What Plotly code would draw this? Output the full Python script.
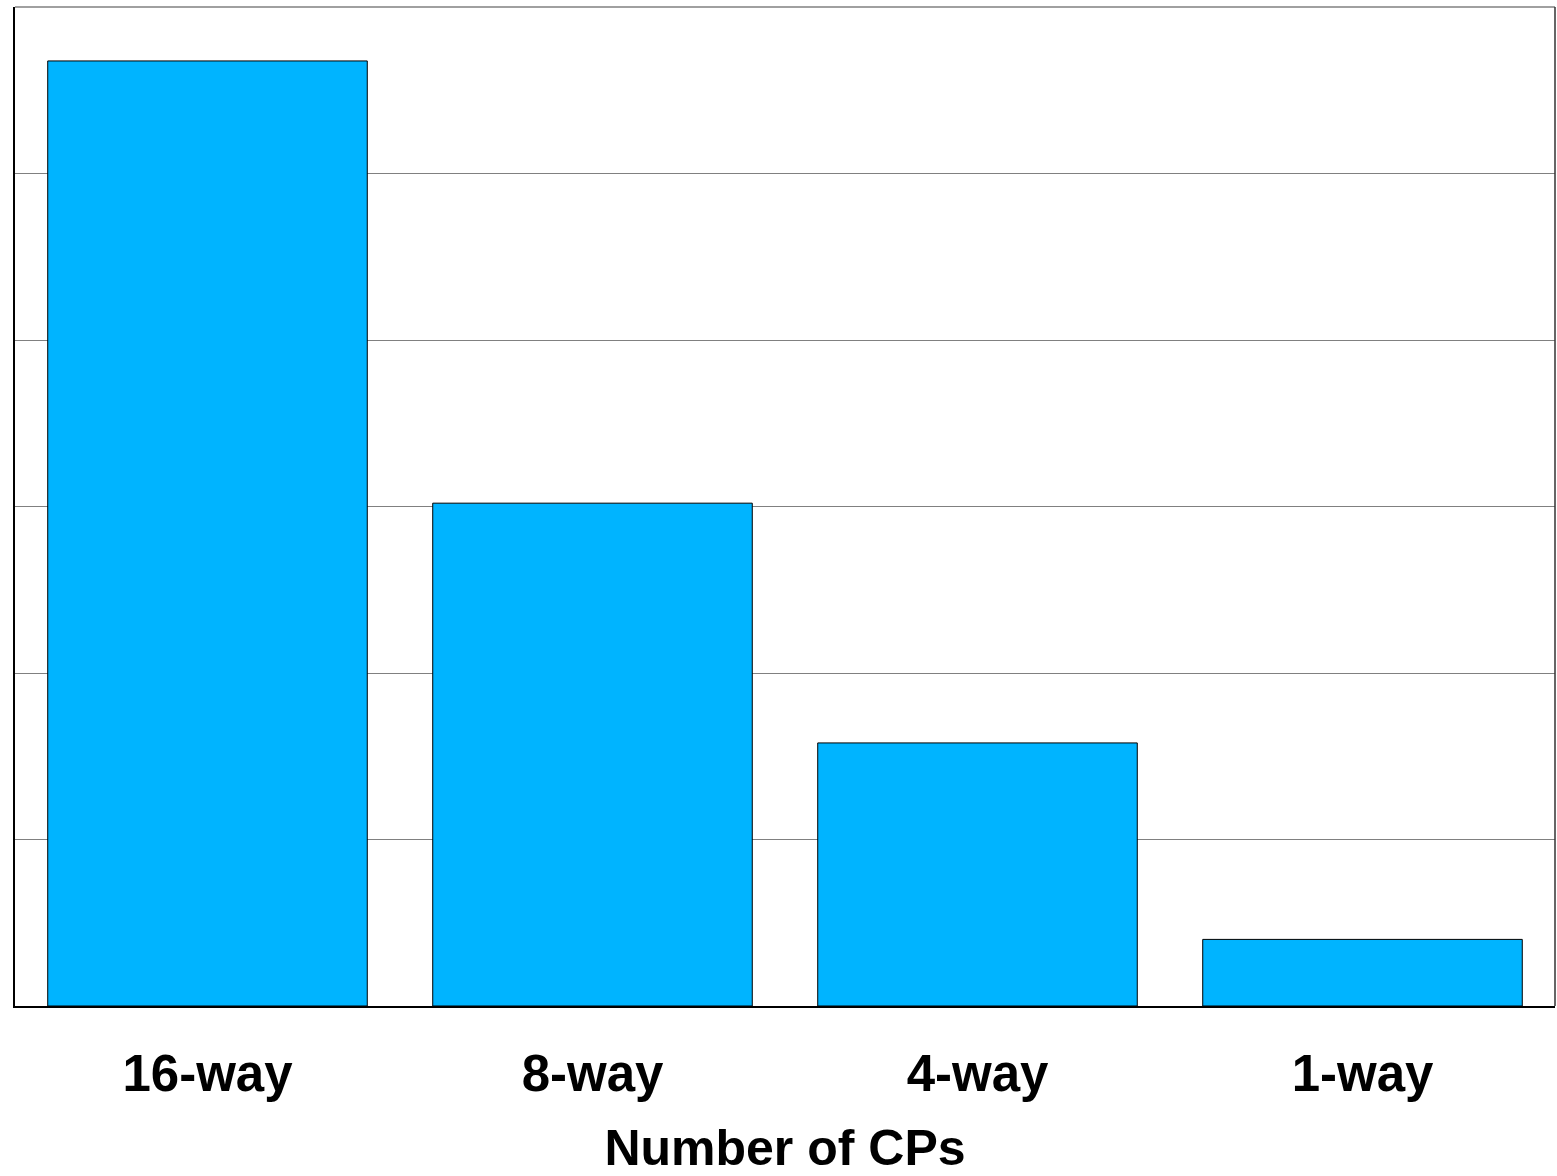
import plotly.graph_objects as go

categories = ["16-way", "8-way", "4-way", "1-way"]
values = [5.676, 3.02, 1.58, 0.40]

fig = go.Figure()
fig.add_trace(go.Bar(
    x=categories, y=values,
    marker=dict(color="#00B4FF", line=dict(color="black", width=1)),
))

font_family = "Liberation Sans, Arial, sans-serif"
fig.update_layout(
    width=1557, height=1176,
    margin=dict(l=15, r=2, t=7, b=170),
    paper_bgcolor="white", plot_bgcolor="white",
    bargap=0.17,
    showlegend=False,
    font=dict(family=font_family, color="black"),
    xaxis=dict(
        range=[-0.5, 3.5],
        showline=True, linecolor="black", linewidth=2,
        showgrid=False, ticks="",
        tickfont=dict(size=51, family=font_family, color="black", weight="bold"),
        ticklabelstandoff=22,
        title=dict(text="<b>Number of CPs</b>", font=dict(size=50, family=font_family, color="black"), standoff=36),
    ),
    yaxis=dict(
        range=[0, 6], dtick=1,
        showline=True, linecolor="black", linewidth=2,
        showgrid=True, gridcolor="#808080", gridwidth=1,
        showticklabels=False, ticks="", zeroline=False,
    ),
    shapes=[
        dict(type="line", xref="paper", yref="paper", x0=0, x1=1, y0=1, y1=1,
             line=dict(color="#808080", width=1.5)),
        dict(type="line", xref="paper", yref="paper", x0=1, x1=1, y0=0, y1=1,
             line=dict(color="#333333", width=1.5)),
    ],
)

fig.write_html("out.html", config={"displayModeBar": False},
               post_script="document.body.style.margin='0';document.body.style.overflow='hidden';")
